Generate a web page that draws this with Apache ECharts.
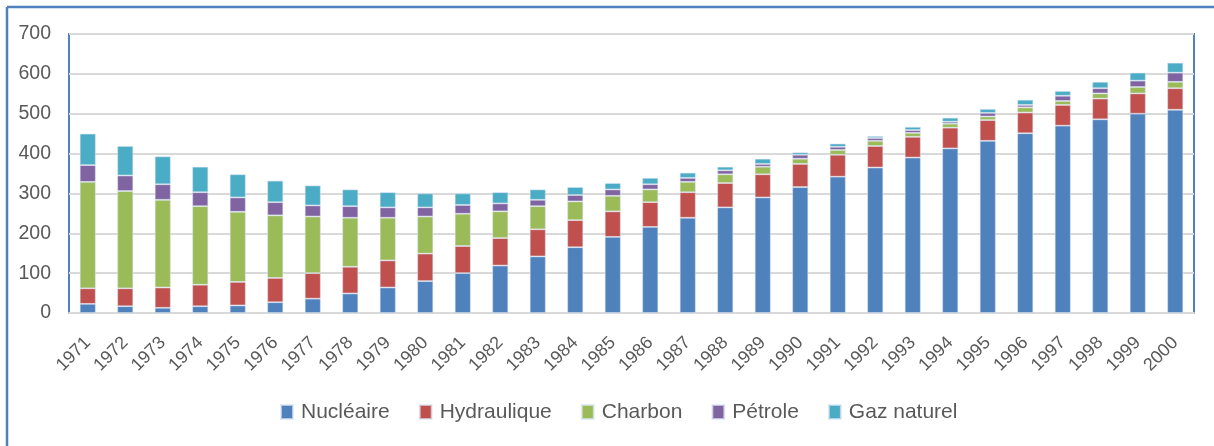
<!DOCTYPE html>
<html>
<head>
<meta charset="utf-8">
<script src="https://cdn.jsdelivr.net/npm/echarts@6/dist/echarts.min.js"></script>
<style>html,body{margin:0;padding:0;background:#fff}#c{width:1214px;height:446px}</style>
</head>
<body>
<div id="c"></div>
<script>
var years = ['1971','1972','1973','1974','1975','1976','1977','1978','1979','1980','1981','1982','1983','1984','1985','1986','1987','1988','1989','1990','1991','1992','1993','1994','1995','1996','1997','1998','1999','2000'];
var seriesNames = ['Nucléaire','Hydraulique','Charbon','Pétrole','Gaz naturel'];
var nucleaire   = [23,17,13,17,19,27,36,49,64,80,100,119,142,165,191,216,239,265,290,316,342,365,390,413,432,451,470,486,500,510];
var hydraulique = [39,45,51,54,59,61,64,67,68,69,68,69,68,68,64,62,64,61,58,58,55,54,52,52,52,52,52,52,51,54];
var charbon     = [267,244,220,197,176,157,142,123,107,93,81,67,58,47,39,32,26,22,19,13,12,13,10,10,9,13,10,13,16,16];
var petrole     = [42,39,39,35,36,33,28,29,26,23,22,20,16,16,16,13,10,10,7,10,8,7,7,5,9,6,13,13,16,23];
var gaz         = [79,74,70,64,58,54,50,42,38,35,29,28,26,20,16,16,13,9,13,6,8,5,8,10,10,13,12,16,20,25];
var colors = ['#4F81BD','#C0504D','#9BBB59','#8064A2','#4BACC6'];
var yTicks = {min:0, max:700, interval:100};

var font = 'Liberation Sans, Arial, sans-serif';
var values = [nucleaire, hydraulique, charbon, petrole, gaz];
var chart = echarts.init(document.getElementById('c'), null, {renderer:'canvas'});
chart.setOption({
  animation:false,
  color: colors,
  graphic: [
    {type:'line', shape:{x1:7, y1:7, x2:7, y2:446}, style:{stroke:'#4F81BD', lineWidth:2.5}, z:100},
    {type:'line', shape:{x1:7, y1:7, x2:1214, y2:7}, style:{stroke:'#4F81BD', lineWidth:2.5}, z:100}
  ],
  grid: {left:69, right:20, top:34, bottom:133, show:true, borderColor:'#4F81BD', borderWidth:2, backgroundColor:'transparent'},
  legend: {
    data: seriesNames, left:275, top:396, itemWidth:12, itemHeight:14, itemGap:29,
    icon:'rect',
    textStyle:{fontFamily:font, fontSize:21, lineHeight:22, color:'#595959', padding:[0,0,0,3]}
  },
  xAxis: {
    type:'category', data: years,
    axisLine:{show:true, lineStyle:{color:'#D9D9D9', width:2}},
    axisTick:{show:false},
    axisLabel:{rotate:45, margin:27, fontFamily:font, fontSize:18, color:'#595959', interval:0}
  },
  yAxis: {
    type:'value', min:yTicks.min, max:yTicks.max, interval:yTicks.interval,
    axisLine:{show:false}, axisTick:{show:false},
    splitLine:{lineStyle:{color:'#D9D9D9', width:2}},
    axisLabel:{margin:18, fontFamily:font, fontSize:19.5, color:'#595959'}
  },
  series: seriesNames.map(function(n,i){
    return {name:n, type:'bar', stack:'total', data: values[i], barWidth:16,
      itemStyle:{color:colors[i], borderColor:'rgba(220,230,242,0.7)', borderWidth:0.8}};
  })
});
</script>
</body>
</html>
